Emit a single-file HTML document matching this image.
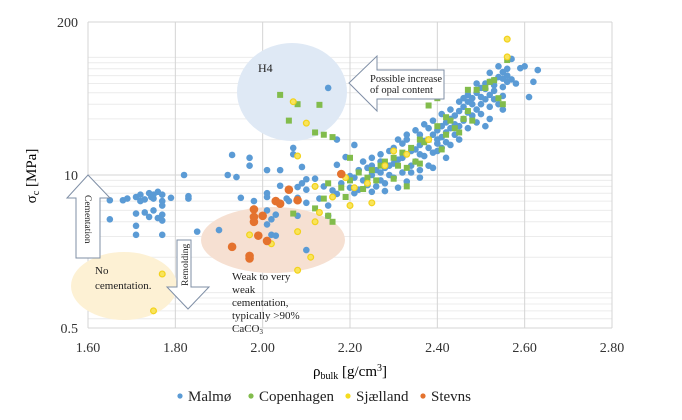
<!DOCTYPE html>
<html><head><meta charset="utf-8">
<style>
html,body{margin:0;padding:0;background:#fff;}
svg{display:block;font-family:"Liberation Serif",serif;}
</style></head>
<body>
<svg id="chart" width="682" height="420" viewBox="0 0 682 420" xmlns="http://www.w3.org/2000/svg">
<g id="grid"></g>
<g id="annot-back">
<ellipse cx="292" cy="92" rx="55" ry="49" fill="#dfe9f5"/>
<ellipse cx="273" cy="240" rx="72" ry="33" fill="#f6e0d2"/>
<ellipse cx="124" cy="286" rx="53" ry="34" fill="#fdf1d4"/>
</g>
<g id="marks"></g>
<g id="axes"></g>
<g font-size="11" fill="#222">
<text x="258" y="72" font-size="12">H4</text>
<polygon points="349,83 377,56 377,70 444,70 444,99 377,99 377,111" fill="#fff" stroke="#7f8fa6" stroke-width="1"/>
<text x="370" y="82" font-size="10.5">Possible increase</text>
<text x="370" y="93" font-size="10.5">of opal content</text>
<polygon points="88,175 110,198 100,198 100,258 76,258 76,198 67,198" fill="#fff" stroke="#7f8fa6" stroke-width="1"/>
<text x="0" y="0" font-size="9.5" transform="translate(85,195) rotate(90)">Cementation</text>
<polygon points="177,240 191,240 191,287 209,287 188,309 167,287 177,287" fill="#fff" stroke="#7f8fa6" stroke-width="1"/>
<text x="0" y="0" font-size="9.5" transform="translate(188,286) rotate(-90)">Remolding</text>
<text x="95" y="274">No</text>
<text x="95" y="289">cementation.</text>
<text x="232" y="280">Weak to very</text>
<text x="232" y="293">weak</text>
<text x="232" y="306">cementation,</text>
<text x="232" y="319">typically &gt;90%</text>
<text x="232" y="332">CaCO<tspan font-size="7" dy="2">3</tspan></text>
</g>
<text x="350" y="376" text-anchor="middle" font-size="15">ρ<tspan font-size="10" dy="3">bulk</tspan><tspan dy="-3"> [g/cm</tspan><tspan font-size="10" dy="-5">3</tspan><tspan dy="5">]</tspan></text>
<text x="0" y="0" text-anchor="middle" font-size="15" transform="translate(36,176) rotate(-90)">σ<tspan font-size="10" dy="3">c</tspan><tspan dy="-3"> [MPa]</tspan></text>
<g id="legend" font-size="15"></g>
</svg>
<script>
const xTicks = [1.6, 1.8, 2.0, 2.2, 2.4, 2.6, 2.8];
const xTickLabels = ["1.60", "1.80", "2.00", "2.20", "2.40", "2.60", "2.80"];
const yTicks = [0.5, 10, 200];
const yTickLabels = ["0.5", "10", "200"];
const seriesNames = ["Malmø", "Copenhagen", "Sjælland", "Stevns"];
const malmoX = [1.65,1.68,1.71,1.72,1.74,1.745,1.75,1.76,1.77,1.77,1.77,1.79,1.83,1.83,1.65,1.71,1.71,1.71,1.73,1.74,1.75,1.76,1.77,1.77,1.77,1.85,1.90,1.95,1.82,1.92,1.94,1.93,1.97,1.97,1.73,1.75,1.72,1.69,
2.01,2.04,2.07,2.07,2.09,2.04,2.08,2.09,2.10,2.12,2.01,2.01,1.98,2.055,2.06,2.08,2.10,2.01,2.02,2.03,2.08,2.01,2.02,2.03,2.10,2.15,2.15,2.17,2.19,2.20,2.15,2.17,2.21,2.10,2.12,2.14,2.16,2.18,2.20,2.22,2.13,2.17,
2.21,2.23,2.24,2.25,2.26,2.27,2.28,2.29,2.30,2.31,2.32,2.33,2.34,2.35,2.36,2.37,2.38,2.39,2.40,2.41,2.42,2.43,2.44,2.45,2.46,2.47,2.48,2.49,2.50,2.51,2.52,2.53,2.54,2.55,2.56,2.57,2.54,2.52,2.59,2.60,2.63,2.62,2.61,
2.23,2.24,2.26,2.27,2.29,2.30,2.31,2.33,2.34,2.28,2.25,2.27,2.30,2.32,2.33,2.36,2.38,2.35,2.37,2.39,2.41,2.42,2.44,2.45,2.46,2.47,2.49,2.50,2.51,2.52,2.53,2.55,2.54,2.55,2.52,2.51,2.49,2.47,2.45,2.43,2.40,2.38,2.36,2.34,2.40,2.42,2.44,2.46,2.48,2.50,2.52,2.53,2.55,2.56,2.57,2.55,2.53,2.51,2.49,2.48,2.47,2.45,2.43,2.41,2.39,2.37,2.35,2.33,2.31,2.29,2.27,2.25,2.22,2.41,2.43,2.46,2.50,2.56,2.58,2.40,2.38,2.36,2.42,2.32,2.28,2.25,2.21,2.36,2.39];
const malmoY = [6.1,6.1,6.5,6.8,7.0,6.5,6.3,7.2,6.8,6.0,5.5,6.4,6.3,6.6,4.2,4.7,3.7,3.1,4.8,4.4,5.0,4.3,4.6,4.1,3.1,3.3,3.4,6.4,10,10,9.6,14.8,14,12,6.2,6.8,6.0,6.3,
11,11,17,15,11.7,8.1,7.9,8.5,7.5,8.0,7.0,6.5,6.0,6.3,6.0,6.4,5.8,5.0,4.2,4.6,4.5,3.8,3.1,3.05,2.3,5.5,4.5,12.2,14.2,9.8,55,20,18,9.2,9.3,8.0,7.4,8.5,7.8,7.5,6.3,6.9,
9.5,9,8.2,10,11,10.5,11.5,12,12.5,13.5,14,15,16,16.5,18,19.5,20,22,24,26,28,30,32,35,38,42,45,50,55,60,62,64,68,75,80,97,84,74,81,84,78,62,46,
13,11.5,8.0,9,10,9.5,7.8,8.8,10.5,7.3,14,15,17,18.5,20,22,25,13,14.5,15.5,17,19,22,26,30,34,36,40,44,48,52,56,40,36,30,26,28,25,20,18,16,12,11,12,20,23,27,29,32,33,38,44,47,62,65,66,58,54,60,40,48,42,36,33,29,27,24,22,20,16,13,12,11,21,25,45,46,70,60,18.5,17,15,14,10.5,8.5,7.2,7,9.5,11.5];
const copenX = [2.04,2.08,2.13,2.06,2.12,2.14,2.16,2.20,2.18,2.20,2.22,2.24,2.15,2.14,2.12,2.15,2.16,2.07,2.19,2.23,2.25,2.27,2.28,2.30,2.32,2.34,2.31,2.33,2.35,2.36,2.37,2.38,2.40,2.42,2.43,2.44,2.45,2.46,2.47,2.40,2.38,2.42,2.47,2.49,2.51,2.52,2.53,2.56,2.54,2.55,2.48,2.33,2.30,2.26,2.36,2.41];
const copenY = [48,40,39.5,29,23,22,21,14,7.8,9,10.5,9.5,8.5,6.3,5.2,4.5,4.0,4.7,6.5,7.6,11,12,13,14,15.5,17,12,11.5,13,12.5,19,20,26,22,29,25,23,30,35,45,39,31,53,53,55,62,64,95,45,40,29,8.0,9.3,9.0,20,16.5];
const sjaeX = [2.07,2.10,2.08,2.56,2.56,2.13,2.12,2.08,2.02,2.11,2.08,2.16,2.21,2.24,2.28,2.33,2.38,2.30,2.20,2.25,1.77,1.75,1.97,2.12,2.19];
const sjaeY = [42,27.6,14.5,143,101,4.8,4.0,3.3,2.6,2.0,1.55,6.5,7.8,8.5,12,15,20,16,5.5,5.8,1.44,0.7,3.1,8,9.5];
const stevX = [2.06,2.08,2.04,1.98,2.00,1.98,1.98,1.99,2.01,1.93,1.97,2.18,2.03,1.97];
const stevY = [7.5,6.1,5.7,5.1,4.5,4.4,4.0,3.05,2.75,2.45,2.05,10.2,6.0,1.95];

const NS = "http://www.w3.org/2000/svg";
const L = 88, R = 612, T = 22, B = 328;
const X_MIN = 1.6, X_MAX = 2.8, Y_MIN = 0.5, Y_MAX = 200;
function sx(v){ return L + (v - X_MIN) / (X_MAX - X_MIN) * (R - L); }
function sy(v){ return B - (Math.log10(v) - Math.log10(Y_MIN)) / (Math.log10(Y_MAX) - Math.log10(Y_MIN)) * (B - T); }
function mk(tag, attrs, parent){ const e = document.createElementNS(NS, tag); for (const k in attrs) e.setAttribute(k, attrs[k]); parent.appendChild(e); return e; }

const grid = document.getElementById('grid');
const minors = [0.6,0.7,0.8,0.9,1,2,3,4,5,6,7,8,9,20,30,40,50,60,70,80,90,100];
minors.forEach(v => {
  const ln = mk('line', {x1:L, x2:R, y1:sy(v), y2:sy(v), stroke:'#ececec', 'stroke-width':1}, grid);
  
  
});
yTicks.forEach(v => {
  const ln = mk('line', {x1:L, x2:R, y1:sy(v), y2:sy(v), stroke:'#d4d4d4', 'stroke-width':1}, grid);
  
  
});
xTicks.forEach(v => {
  const ln = mk('line', {x1:sx(v), x2:sx(v), y1:T, y2:B, stroke:'#d4d4d4', 'stroke-width':1}, grid);
  
  
});

const axes = document.getElementById('axes');
xTicks.forEach((v, i) => {
  const t = mk('text', {x:sx(v), y:352, 'text-anchor':'middle', 'font-size':14, fill:'#333'}, axes);
  t.textContent = xTickLabels[i];
  
  
});
yTicks.forEach((v, i) => {
  const t = mk('text', {x:78, y:sy(v) + 5, 'text-anchor':'end', 'font-size':14, fill:'#333'}, axes);
  t.textContent = yTickLabels[i];
  
  
});

const marks = document.getElementById('marks');
function dots(xs, ys, color, kind, name){
  for (let i = 0; i < xs.length; i++){
    const cx = sx(xs[i]), cy = sy(ys[i]);
    let e;
    if (kind === 'sq') e = mk('rect', {x:cx-3, y:cy-3, width:6, height:6, fill:color}, marks);
    else if (kind === 'ring') e = mk('circle', {cx:cx, cy:cy, r:2.9, fill:'#f9e45a', stroke:color, 'stroke-width':1.2}, marks);
    else e = mk('circle', {cx:cx, cy:cy, r:kind === 'big' ? 4.3 : 3.3, fill:color}, marks);
    
    
  }
}
dots(malmoX, malmoY, '#5b9bd5', 'dot', 'malmo-point');
dots(copenX, copenY, '#82bc4c', 'sq', 'copenhagen-point');
dots(sjaeX, sjaeY, '#f2d21c', 'ring', 'sjaelland-point');
dots(stevX, stevY, '#e4722e', 'big', 'stevns-point');

const legend = document.getElementById('legend');
const legColors = ['#5b9bd5', '#82bc4c', '#f5dc1e', '#e4722e'];
const legX = [180, 251, 348, 423];
seriesNames.forEach((n, i) => {
  const g = mk('g', {}, legend);
  
  
  mk('circle', {cx:legX[i], cy:396, r:2.6, fill:legColors[i]}, g);
  const t = mk('text', {x:legX[i] + 8, y:401, fill:'#222'}, g);
  t.textContent = n;
});
</script>
</body></html>
